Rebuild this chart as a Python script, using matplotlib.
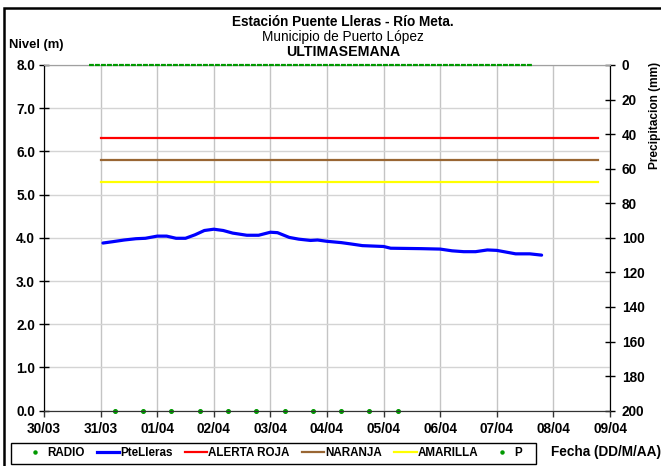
import matplotlib
matplotlib.use("Agg")
import matplotlib.pyplot as plt
import matplotlib.dates as mdates
from matplotlib.lines import Line2D
from matplotlib.patches import Rectangle
import pandas as pd

plt.rcParams['font.family'] = ['Liberation Sans', 'DejaVu Sans']
plt.rcParams['font.weight'] = 'bold'

YEAR = "2014"
# --- data -------------------------------------------------------------
level_times = ["03-31 01:00", "03-31 05:00", "03-31 10:00", "03-31 15:00", "03-31 19:00",
               "04-01 00:00", "04-01 04:00", "04-01 08:00", "04-01 12:00", "04-01 16:00",
               "04-01 20:00", "04-02 00:00", "04-02 04:00", "04-02 08:00", "04-02 14:00",
               "04-02 19:00", "04-03 00:00", "04-03 03:00", "04-03 08:00", "04-03 12:00",
               "04-03 17:00", "04-03 20:00", "04-04 00:00", "04-04 06:00", "04-04 10:00",
               "04-04 15:00", "04-05 00:00", "04-05 03:00", "04-05 16:00", "04-06 00:00",
               "04-06 05:00", "04-06 10:00", "04-06 15:00", "04-06 20:00", "04-07 00:00",
               "04-07 04:00", "04-07 08:00", "04-07 14:00", "04-07 19:00"]
level_values = [3.88, 3.91, 3.95, 3.98, 3.99,
                4.04, 4.04, 3.99, 3.99, 4.07,
                4.17, 4.20, 4.17, 4.11, 4.06,
                4.06, 4.13, 4.12, 4.01, 3.97,
                3.94, 3.95, 3.92, 3.89, 3.86,
                3.82, 3.80, 3.76, 3.75, 3.74,
                3.70, 3.68, 3.68, 3.72, 3.71,
                3.67, 3.63, 3.63, 3.60]

radio_times = ["03-31 06:00", "03-31 18:00", "04-01 06:00", "04-01 18:00", "04-02 06:00",
               "04-02 18:00", "04-03 06:00", "04-03 18:00", "04-04 06:00", "04-04 18:00",
               "04-05 06:00"]
radio_values = [0.0] * 11

threshold_times = ["03-31 00:00", "04-08 19:00"]
alerta_roja = [6.3, 6.3]
naranja = [5.8, 5.8]
amarilla = [5.3, 5.3]

p_times = ["03-30 19:00", "04-07 15:00"]
p_values = [0.0, 0.0]

x_limits = ["03-30 00:00", "04-09 00:00"]
y_left_ticks = [0, 1, 2, 3, 4, 5, 6, 7, 8]
y_right_ticks = [0, 20, 40, 60, 80, 100, 120, 140, 160, 180, 200]

def to_dt(lst):
    return pd.to_datetime([YEAR + "-" + s for s in lst])

# --- figure -----------------------------------------------------------
W, H = 661, 466
fig = plt.figure(figsize=(W / 100, H / 100), dpi=100)
ax = fig.add_axes([44 / W, 1 - 410.7 / H, (610 - 44) / W, (410.7 - 65) / H])
ax2 = ax.twinx()

ax.set_xlim(to_dt(x_limits)[0], to_dt(x_limits)[1])
ax.set_ylim(0, 8)
ax2.set_ylim(200, 0)

ax.xaxis.set_major_locator(mdates.DayLocator())
ax.xaxis.set_major_formatter(mdates.DateFormatter('%d/%m'))
ax.set_yticks(y_left_ticks)
ax.set_yticklabels([f"{v:.1f}" for v in y_left_ticks])
ax2.set_yticks(y_right_ticks)
ax.grid(True, axis='x', color='#c4c4c4', lw=1.0)
ax.grid(True, axis='y', color='#d4d4d4', lw=1.0)
ax.set_axisbelow(True)

ax.tick_params(axis='y', direction='inout', length=7, width=1, pad=3, labelsize=9.8)
ax.tick_params(axis='x', direction='out', length=4, width=1, pad=4, color='#333333',
               labelsize=9.8)
ax2.tick_params(axis='y', direction='inout', length=7, width=1, pad=5, labelsize=9.8)

for a in (ax, ax2):
    a.spines['top'].set_color('#a0a0a0')
    a.spines['left'].set_color('black')
    a.spines['right'].set_color('black')
    a.spines['bottom'].set_color('#333333')

# series
ax.plot(to_dt(level_times), level_values, color='#0000ff', lw=2.3, solid_capstyle='round')
ax.plot(to_dt(threshold_times), alerta_roja, color='#ff0000', lw=1.6)
ax.plot(to_dt(threshold_times), naranja, color='#996633', lw=1.6)
ax.plot(to_dt(threshold_times), amarilla, color='#ffff00', lw=1.6)
ax.plot(to_dt(radio_times), radio_values, ls='none', marker='o', ms=2.6, color='#009900',
        clip_on=False, zorder=5)
ax2.plot(to_dt(p_times), p_values, color='#009900', lw=1.6, ls=(0, (2.2, 0.5)), clip_on=False,
         zorder=5)

# texts
fig.text(343 / W, 1 - 22 / H, "Estación Puente Lleras - Río Meta.", ha='center', va='center',
         fontsize=9.8, fontweight='bold')
fig.text(343 / W, 1 - 37 / H, "Municipio de Puerto López", ha='center', va='center',
         fontsize=9.8, fontweight='normal')
fig.text(343 / W, 1 - 52 / H, "ULTIMASEMANA", ha='center', va='center', fontsize=10.2,
         fontweight='bold')
fig.text(9 / W, 1 - 45 / H, "Nivel (m)", ha='left', va='center', fontsize=9.4, fontweight='bold')
fig.text(655 / W, 1 - 115 / H, "Precipitacion (mm)", ha='center', va='center', rotation=90,
         fontsize=8.6, fontweight='bold')
fig.text(606 / W, 1 - 452 / H, "Fecha (DD/M/AA)", ha='center', va='center', fontsize=9.8,
         fontweight='bold')

# legend
handles = [
    Line2D([], [], ls='none', marker='o', ms=2.2, color='#009900'),
    Line2D([], [], color='#0000ff', lw=2.3),
    Line2D([], [], color='#ff0000', lw=1.6),
    Line2D([], [], color='#996633', lw=1.6),
    Line2D([], [], color='#ffff00', lw=1.6),
    Line2D([], [], ls='none', marker='o', ms=2.2, color='#009900'),
]
labels = ["RADIO", "PteLleras", "ALERTA ROJA", "NARANJA", "AMARILLA", "P"]
leg = fig.legend(handles, labels, loc='center left', bbox_to_anchor=(24 / W, 1 - 453 / H),
                 ncol=6, frameon=False, prop=dict(size=8.4, weight='bold'),
                 handlelength=1.9, handletextpad=0.1, columnspacing=1.05,
                 borderpad=0, borderaxespad=0)
fig.add_artist(Rectangle((10.5 / W, 1 - 464 / H), (536 - 10.5) / W, (464 - 442.5) / H,
                         transform=fig.transFigure, fill=False, edgecolor='black', lw=1.0))

# outer frame (extends past the right and bottom edges of the image)
fig.add_artist(Rectangle((4 / W, -5 / H), 670 / W, (466 - 8 + 5) / H, transform=fig.transFigure,
                         fill=False, edgecolor='black', lw=1.8))

fig.savefig("out.png", dpi=100)
